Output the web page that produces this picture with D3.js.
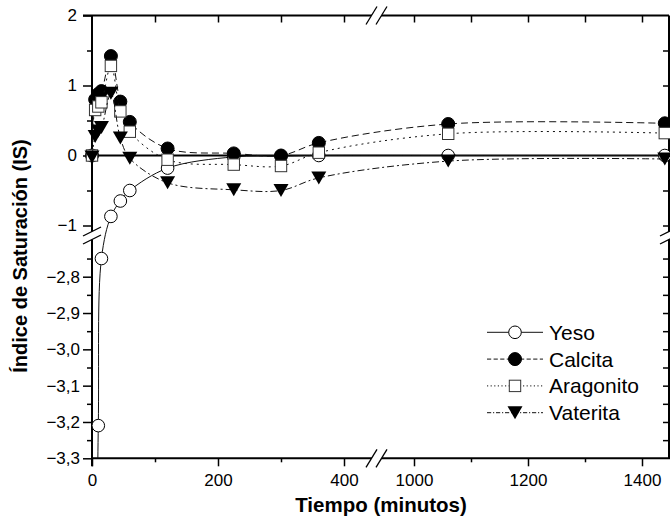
<!DOCTYPE html>
<html>
<head>
<meta charset="utf-8">
<script src="https://cdn.jsdelivr.net/npm/d3@7"></script>
<style>
    body { margin: 0; background: #fff; }
    text { font-family: "Liberation Sans", Arial, sans-serif; }
</style>
</head>
<body>
<div id="chart"></div>
<script>
// tiempos de muestreo (minutos)
const times = [0, 5, 10, 15, 30, 45, 60, 120, 225, 300, 360, 1060, 1440];

// indices de saturacion
const yeso = [null, -4.0, -3.21, -2.75, -0.87, -0.65, -0.5, -0.18, -0.02, -0.01, 0.0, 0.0, 0.0];
const calcita = [0.0, 0.8, 0.88, 0.92, 1.42, 0.77, 0.48, 0.1, 0.03, 0.0, 0.18, 0.45, 0.46];
const aragonito = [0.0, 0.65, 0.7, 0.76, 1.28, 0.63, 0.34, -0.06, -0.13, -0.15, 0.04, 0.31, 0.32];
const vaterita = [-0.02, 0.27, 0.35, 0.4, 0.89, 0.25, -0.04, -0.39, -0.49, -0.5, -0.32, -0.08, -0.05];

const seriesNames = ["Yeso", "Calcita", "Aragonito", "Vaterita"];

// ticks
const xMajorA = [0, 200, 400];
const xMinorA = [100, 300];
const xMajorB = [1000, 1200, 1400];
const xMinorB = [1100, 1300];
const yMajorTop = [2, 1, 0, -1];
const yMinorTop = [1.5, 0.5, -0.5];
const yMajorBot = [-2.8, -2.9, -3.0, -3.1, -3.2, -3.3];
const yMinorBot = [-2.75, -2.85, -2.95, -3.05, -3.15, -3.25];

function drawChart() {
    const w = 670;
    const h = 532;

    const left = 92;
    const right = 669;
    const top = 15.5;
    const bottom = 458.3;
    const xBreak = 381;
    const yBreak = 236;

    // eje x partido en dos tramos
    const x1 = d3.scaleLinear().domain([0, 400]).range([92, 344]);
    const x2 = d3.scaleLinear().domain([1000, 1400]).range([414, 642]);
    // eje y partido en dos tramos
    const yTop = d3.scaleLinear().domain([2, -1]).range([top, 225.5]);
    const yBot = d3.scaleLinear().domain([-2.8, -3.3]).range([276.7, bottom]);

    function xPos(t) {
        return t < 700 ? x1(t) : x2(t);
    }

    function yPos(v) {
        return v > -1.8 ? yTop(v) : yBot(v);
    }

    const svg = d3.select("#chart")
        .append("svg")
        .attr("width", w)
        .attr("height", h);

    svg.append("rect").attr("width", w).attr("height", h).attr("fill", "#fff");

    svg.append("clipPath")
        .attr("id", "plotClip")
        .append("rect")
        .attr("x", left)
        .attr("y", top)
        .attr("width", right - left)
        .attr("height", bottom - top);

    const minus = function (s) {
        return s.replace("-", "\u2212");
    };
    const commaFmt = function (d) {
        return minus(d.toFixed(1).replace(".", ","));
    };
    const intFmt = function (d) {
        return minus(String(d));
    };

    function addAxis(axis, tx, ty) {
        const g = svg.append("g")
            .attr("transform", "translate(" + tx + "," + ty + ")")
            .call(axis);
        g.select(".domain").remove();
        g.selectAll("line").attr("stroke", "#000").attr("stroke-width", 1.5);
        g.selectAll("text").attr("fill", "#000").style("font-size", "17px")
            .style("font-family", "'Liberation Sans', Arial, sans-serif");
        return g;
    }

    // eje x inferior
    addAxis(d3.axisBottom(x1).tickValues(xMajorA).tickSize(8).tickPadding(8).tickFormat(intFmt), 0, bottom);
    addAxis(d3.axisBottom(x2).tickValues(xMajorB).tickSize(8).tickPadding(8).tickFormat(intFmt), 0, bottom);
    addAxis(d3.axisBottom(x1).tickValues(xMinorA).tickSize(4).tickFormat(""), 0, bottom);
    addAxis(d3.axisBottom(x2).tickValues(xMinorB).tickSize(4).tickFormat(""), 0, bottom);

    // eje x superior (ticks hacia dentro)
    addAxis(d3.axisBottom(x1).tickValues(xMajorA.concat(xMinorA).filter(d => d > 0)).tickSize(7).tickFormat(""), 0, top);
    addAxis(d3.axisBottom(x2).tickValues(xMajorB.concat(xMinorB)).tickSize(7).tickFormat(""), 0, top);

    // eje y izquierdo
    addAxis(d3.axisLeft(yTop).tickValues(yMajorTop).tickSize(9).tickPadding(6).tickFormat(intFmt), left, 0);
    addAxis(d3.axisLeft(yTop).tickValues(yMinorTop).tickSize(5).tickFormat(""), left, 0);
    addAxis(d3.axisLeft(yBot).tickValues(yMajorBot).tickSize(9).tickPadding(3).tickFormat(commaFmt), left, 0);
    addAxis(d3.axisLeft(yBot).tickValues(yMinorBot).tickSize(5).tickFormat(""), left, 0);

    // eje y derecho (ticks hacia dentro)
    addAxis(d3.axisRight(yTop).tickValues(yMajorTop.concat(yMinorTop).filter(d => d < 2)).tickSize(-6).tickFormat(""), right, 0);
    addAxis(d3.axisRight(yBot).tickValues(yMajorBot.concat(yMinorBot).filter(d => d > -3.3)).tickSize(-6).tickFormat(""), right, 0);

    // marco
    const frame = svg.append("g").attr("stroke", "#000").attr("stroke-width", 2).attr("fill", "none");
    frame.append("line").attr("x1", left - 9).attr("x2", right).attr("y1", top).attr("y2", top);
    frame.append("line").attr("x1", left).attr("x2", right + 1).attr("y1", bottom).attr("y2", bottom);
    frame.append("line").attr("x1", left).attr("x2", left).attr("y1", top).attr("y2", bottom + 8);
    frame.append("line").attr("x1", right).attr("x2", right).attr("y1", top).attr("y2", bottom);

    // marcas de ruptura
    function breakMarks(cx, cy, horizontal) {
        const g = svg.append("g");
        let pts;
        if (horizontal) {
            pts = [[-10, 9, 1, -9], [0, 9, 11, -9]];
        } else {
            pts = [[-9, 4, 9, -5], [-9, 12, 9, 3]];
        }
        g.append("polygon")
            .attr("points", [[cx + pts[0][0], cy + pts[0][1]], [cx + pts[0][2], cy + pts[0][3]],
                [cx + pts[1][2], cy + pts[1][3]], [cx + pts[1][0], cy + pts[1][1]]].join(" "))
            .attr("fill", "#fff");
        pts.forEach(function (p) {
            g.append("line")
                .attr("x1", cx + p[0]).attr("y1", cy + p[1])
                .attr("x2", cx + p[2]).attr("y2", cy + p[3])
                .attr("stroke", "#000").attr("stroke-width", 1.3);
        });
    }

    breakMarks(xBreak - 5, top, true);
    breakMarks(xBreak - 5, bottom, true);
    breakMarks(left, yBreak - 4, false);
    breakMarks(right, yBreak - 4, false);

    // linea de cero
    svg.append("line")
        .attr("x1", left).attr("x2", right)
        .attr("y1", yTop(0)).attr("y2", yTop(0))
        .attr("stroke", "#000").attr("stroke-width", 2);

    const styles = [
        { values: yeso, dash: null, symbol: "circleOpen" },
        { values: calcita, dash: "7,4", symbol: "circleFilled" },
        { values: aragonito, dash: "2,4", symbol: "square" },
        { values: vaterita, dash: "7,3,2,3", symbol: "triangle" }
    ];

    const line = d3.line()
        .x(d => d[0])
        .y(d => d[1])
        .curve(d3.curveCatmullRom.alpha(0.5));

    function drawSymbol(g, type, cx, cy) {
        if (type === "circleOpen") {
            g.append("circle").attr("cx", cx).attr("cy", cy).attr("r", 6.3)
                .attr("fill", "#fff").attr("stroke", "#000").attr("stroke-width", 1);
        } else if (type === "circleFilled") {
            g.append("circle").attr("cx", cx).attr("cy", cy).attr("r", 6.5)
                .attr("fill", "#000").attr("stroke", "#000").attr("stroke-width", 1);
        } else if (type === "square") {
            g.append("rect").attr("x", cx - 5.7).attr("y", cy - 5.7)
                .attr("width", 11.4).attr("height", 11.4)
                .attr("fill", "#fff").attr("stroke", "#333").attr("stroke-width", 1);
        } else {
            g.append("path")
                .attr("d", "M" + (cx - 7.5) + "," + (cy - 6.5) + "L" + (cx + 7.5) + "," + (cy - 6.5) +
                    "L" + cx + "," + (cy + 6.5) + "Z")
                .attr("fill", "#000");
        }
    }

    styles.forEach(function (s) {
        const pts = [];
        for (let i = 0; i < times.length; i++) {
            if (s.values[i] !== null) {
                pts.push([xPos(times[i]), yPos(s.values[i]), s.values[i]]);
            }
        }
        svg.append("path")
            .attr("d", line(pts))
            .attr("clip-path", "url(#plotClip)")
            .attr("fill", "none")
            .attr("stroke", "#111")
            .attr("stroke-width", 1)
            .attr("stroke-dasharray", s.dash);

        const g = svg.append("g");
        pts.forEach(function (p) {
            if (p[2] >= -3.3) {
                drawSymbol(g, s.symbol, p[0], p[1]);
            }
        });
    });

    // leyenda
    const legend = svg.append("g");
    styles.forEach(function (s, i) {
        const ly = 332.3 + i * 26.8;
        legend.append("line")
            .attr("x1", 487).attr("x2", 543)
            .attr("y1", ly).attr("y2", ly)
            .attr("stroke", "#111").attr("stroke-width", 1)
            .attr("stroke-dasharray", s.dash ? s.dash.split(",").map(d => d * 0.6).join(",") : null);
        drawSymbol(legend, s.symbol, 515, ly);
        legend.append("text")
            .attr("x", 549)
            .attr("y", ly + 7.5)
            .style("font-size", "21px")
            .text(seriesNames[i]);
    });

    // titulos de ejes
    svg.append("text")
        .attr("text-anchor", "middle")
        .attr("x", 381)
        .attr("y", 512)
        .style("font-size", "20.5px")
        .style("font-weight", "bold")
        .text("Tiempo (minutos)");

    svg.append("text")
        .attr("text-anchor", "middle")
        .attr("transform", "translate(27,256) rotate(-90)")
        .style("font-size", "20px")
        .style("font-weight", "bold")
        .text("Índice de Saturación (IS)");
}

drawChart();
</script>
</body>
</html>
